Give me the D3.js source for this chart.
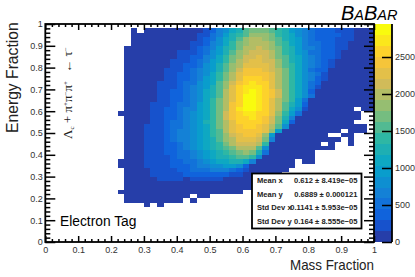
<!DOCTYPE html>
<html>
<head>
<meta charset="utf-8">
<script src="https://cdn.jsdelivr.net/npm/d3@7"></script>
<style>
  body { margin: 0; background: #fff; }
  svg { display: block; }
  text { font-family: "Liberation Sans", Arial, sans-serif; fill: #222; }
</style>
</head>
<body>
<div id="graph"></div>
<script>
// axis ticks and labels
let xMajor = [0, 0.1, 0.2, 0.3, 0.4, 0.5, 0.6, 0.7, 0.8, 0.9, 1];
let yMajor = [0, 0.1, 0.2, 0.3, 0.4, 0.5, 0.6, 0.7, 0.8, 0.9, 1];
let minorTicks = d3.range(0, 51).map(d => d / 50).filter(d => d * 50 % 5 != 0);
let zMajor = [0, 500, 1000, 1500, 2000, 2500];
let zMax = 2946;
let nBands = 20;

// ROOT kBird palette
let birdStops = [0, 0.125, 0.25, 0.375, 0.5, 0.625, 0.75, 0.875, 1];
let birdColors = ["#352a87", "#0f5cdd", "#1481d6", "#06a4ca", "#2eb7a4", "#87bf77", "#d1bb59", "#fec832", "#f9fb0e"];

let legendNames = ["Mean x", "Mean y", "Std Dev x", "Std Dev y"];
let legendValues = ["0.612 ± 8.419e−05", "0.6889 ± 0.000121", "0.1141 ± 5.953e−05", "0.164 ± 8.555e−05"];

// histogram is 50x50 bins of 0.02, first listed column is bin 11 (mass 0.22)
let firstCol = 11;
let binW = 0.02;
let n = null;
// colour band read for each cell (0 = lowest band, null = empty bin), top row is energy bin 48
let firstRow = 48;
let bands = [
[n,n,0,n,0,0,0,0,0,0,0,0,0,1,2,4,5,7,8,10,11,11,11,10,9,8,6,5,4,3,2,2,2,1,1,1,0,0,0],
[n,n,0,0,0,0,0,0,0,0,0,0,1,1,3,4,6,8,9,10,12,12,12,11,9,8,7,5,4,3,2,2,2,2,1,1,0,0,0],
[n,n,0,0,0,0,0,0,0,0,0,0,1,2,3,5,7,8,10,12,13,13,12,11,10,8,7,6,4,3,2,2,2,1,1,1,0,0,0],
[n,n,0,0,0,0,0,0,0,0,0,1,1,2,4,5,7,9,11,12,13,13,13,12,10,9,7,6,4,3,3,2,2,1,1,0,0,0,0],
[n,0,0,0,0,0,0,0,0,0,0,1,2,3,4,6,8,9,11,13,13,14,13,12,11,9,8,6,4,4,3,2,2,1,1,0,0,0,0],
[n,0,0,0,0,0,0,0,0,1,1,1,2,3,5,6,8,10,12,13,14,14,14,13,11,9,8,6,5,3,3,2,2,1,0,0,0,0,0],
[n,0,0,0,0,0,0,0,0,1,1,2,2,4,5,7,9,11,12,14,14,15,14,13,11,10,8,7,5,4,3,2,2,1,0,0,0,0,0],
[n,0,0,0,0,0,0,0,1,1,1,2,3,4,6,7,9,11,13,14,15,15,14,14,12,10,8,7,5,4,3,2,1,0,0,0,0,0,0],
[n,0,0,0,0,0,0,0,1,1,2,2,3,5,6,8,10,12,13,15,15,15,15,14,12,10,9,7,5,4,3,2,1,0,0,0,0,0,0],
[n,0,0,0,0,0,0,1,1,1,2,3,4,5,6,8,10,12,14,16,16,16,15,14,13,11,9,7,5,3,2,2,0,0,0,0,0,0,0],
[n,0,0,0,0,0,0,1,1,2,2,3,4,5,7,9,11,13,15,16,16,16,16,15,13,11,9,7,5,4,3,1,0,0,0,0,0,0,0],
[n,0,0,0,0,0,0,1,1,2,2,3,4,6,7,9,11,13,15,17,17,17,16,15,13,11,9,7,5,4,2,1,0,0,0,0,0,0,0],
[n,0,0,0,0,0,1,1,1,2,3,3,5,6,7,10,12,14,16,17,18,17,17,15,13,11,9,7,5,3,2,0,0,0,0,0,0,0,0],
[n,0,0,0,0,0,1,1,1,2,3,4,5,6,8,10,12,15,17,18,18,18,17,15,13,11,9,7,5,3,1,0,0,0,0,0,0,0,0],
[n,0,0,0,0,0,1,1,2,2,3,4,5,7,8,10,13,15,17,18,19,18,17,16,14,11,9,7,5,2,0,0,0,0,0,0,0,0,0],
[n,0,0,0,0,0,1,1,2,2,3,4,5,7,8,10,13,15,17,19,19,18,17,16,14,11,9,7,5,3,0,0,0,0,0,0,0,0,0],
[n,0,0,0,0,0,1,1,2,2,3,4,5,7,9,11,13,15,17,19,19,18,17,15,13,11,9,6,3,0,0,0,0,0,0,0,0,0,0],
[n,0,0,0,0,1,1,1,2,3,3,4,6,7,9,11,13,16,17,19,19,18,17,15,13,10,8,6,2,0,0,0,0,0,0,0,0,0,0],
[n,0,0,0,0,1,1,2,2,3,4,4,6,7,9,11,13,16,18,19,19,18,17,15,13,10,7,5,1,0,0,0,0,0,0,0,n,0,0],
[0,0,0,0,0,1,1,2,2,3,4,5,6,7,9,11,14,16,17,18,18,17,17,15,12,9,6,3,0,0,0,0,0,0,0,0,0,n,n],
[n,0,0,0,0,1,1,2,2,3,4,5,6,7,9,11,14,16,17,17,18,17,16,14,11,8,4,0,0,0,0,0,0,0,0,0,0,n,n],
[n,0,0,0,0,1,1,2,3,3,4,5,6,8,9,11,13,15,17,17,17,17,16,14,11,7,2,0,0,0,0,0,0,0,0,0,n,n,n],
[n,0,0,0,1,1,1,2,3,3,4,5,6,7,9,11,13,15,16,17,17,16,15,13,10,5,0,0,0,0,0,0,0,0,0,0,0,0,n],
[n,0,0,0,1,1,1,2,3,4,4,5,6,7,9,10,13,15,16,16,16,16,15,12,6,0,0,0,0,0,0,0,0,0,n,0,0,0,n],
[n,0,0,0,1,1,1,2,3,4,4,5,6,7,9,10,12,14,15,16,16,15,12,6,0,0,0,0,0,0,0,0,n,n,0,0,n,n,n],
[n,0,0,0,1,1,1,2,3,4,4,5,6,7,8,10,12,13,15,15,15,14,11,4,0,0,0,0,0,0,0,0,0,0,n,0,n,n,n],
[n,0,0,0,1,1,1,2,2,3,4,5,6,7,8,9,11,13,14,14,14,13,9,0,0,0,0,0,0,0,0,n,0,n,n,0,n,n,n],
[n,0,0,0,1,1,1,2,2,3,4,5,6,7,8,9,10,11,13,13,13,10,5,0,0,0,0,0,0,0,0,0,0,n,n,n,n,n,n],
[n,0,0,0,1,1,1,2,2,3,3,4,5,6,7,8,9,10,11,12,11,8,3,0,0,0,0,0,0,0,n,n,n,n,n,n,n,n,n],
[n,0,0,0,1,1,1,1,2,3,3,4,5,6,7,8,8,9,10,10,9,5,0,0,0,0,0,0,0,0,n,n,n,n,n,n,n,n,n],
[0,0,0,0,1,1,1,1,2,2,3,3,4,5,6,7,7,8,8,7,4,0,0,0,0,0,0,n,0,0,n,n,n,n,n,n,n,n,n],
[0,0,0,0,1,1,1,1,2,2,2,3,4,4,5,5,6,6,5,2,0,0,0,0,0,0,0,n,n,n,n,n,n,n,n,n,n,n,n],
[n,0,0,0,0,1,1,1,1,2,2,3,3,3,4,4,4,3,2,1,0,0,0,0,0,0,n,n,n,n,n,n,n,n,n,n,n,n,n],
[n,0,0,0,0,1,1,1,1,1,2,2,2,2,2,2,2,1,1,0,0,0,0,0,0,n,n,n,n,n,n,n,n,n,n,n,n,n,n],
[n,0,0,0,0,0,1,1,1,1,0,1,1,1,1,1,0,0,0,0,0,0,0,0,0,n,n,n,n,n,n,n,n,n,n,n,n,n,n],
[n,0,0,0,0,0,0,0,0,0,0,0,0,0,0,0,0,0,0,0,0,0,0,n,n,n,n,n,n,n,n,n,n,n,n,n,n,n,n],
[n,0,0,0,0,0,0,0,0,0,0,0,0,0,0,0,0,0,0,0,0,n,n,n,n,n,n,n,n,n,n,n,n,n,n,n,n,n,n],
[0,0,0,0,0,0,0,0,0,0,0,0,0,0,0,0,0,0,0,n,n,n,n,n,n,n,n,n,n,n,n,n,n,n,n,n,n,n,n],
[n,0,0,0,0,0,0,0,0,0,0,n,0,0,n,n,n,n,n,n,n,n,n,n,n,n,n,n,n,n,n,n,n,n,n,n,n,n,n],
[n,0,0,0,0,0,0,0,0,0,n,0,n,n,n,n,n,n,n,n,n,n,n,n,n,n,n,n,n,n,n,n,n,n,n,n,n,n,n],
[n,n,n,n,0,n,0,n,n,n,n,n,n,n,n,n,n,n,n,n,n,n,n,n,n,n,n,n,n,n,n,n,n,n,n,n,n,n,n]
];

let largeurTotale = 415, hauteurTotale = 277;
let marges = {haut: 24, droit: 41, bas: 35, gauche: 45.3};

let echelleX = d3.scaleLinear().domain([0, 1]).range([marges.gauche, largeurTotale - marges.droit]);
let echelleY = d3.scaleLinear().domain([0, 1]).range([hauteurTotale - marges.bas, marges.haut]);
let echelleZ = d3.scaleLinear().domain([0, zMax]).range([hauteurTotale - marges.bas, marges.haut]);
let bird = d3.scaleLinear().domain(birdStops).range(birdColors);
let bandColor = b => bird((b + 1) / nBands);

let svg = d3.select("#graph").append("svg")
    .attr("width", largeurTotale)
    .attr("height", hauteurTotale);

// cells
let cellules = [];
bands.forEach((row, i) => row.forEach((b, j) => {
  if (b !== null) cellules.push({col: firstCol + j, row: firstRow - i, band: b});
}));
svg.append("g").selectAll("rect")
    .data(cellules)
    .enter()
    .append("rect")
    .attr("x", d => echelleX(d.col * binW))
    .attr("y", d => echelleY((d.row + 1) * binW))
    .attr("width", echelleX(binW) - echelleX(0))
    .attr("height", echelleY(0) - echelleY(binW))
    .attr("shape-rendering", "crispEdges")
    .style("fill", d => bandColor(d.band));

// colour bar
let barX = echelleX(1), barW = 18;
svg.append("g").selectAll("rect")
    .data(d3.range(nBands))
    .enter()
    .append("rect")
    .attr("x", barX)
    .attr("width", barW)
    .attr("y", d => echelleZ((d + 1) * zMax / nBands))
    .attr("height", echelleZ(0) - echelleZ(zMax / nBands))
    .attr("shape-rendering", "crispEdges")
    .style("fill", d => bandColor(d));

function styleAxis(g) {
  g.select(".domain").remove();
  g.selectAll("line").attr("stroke", "#000").attr("stroke-width", 1.5);
  g.selectAll("text").style("font-size", "9px").style("fill", "#333");
}
let basY = echelleY(0), hautY = echelleY(1), gaucheX = echelleX(0), droitX = echelleX(1);

// x axis, bottom and top
svg.append("g").attr("transform", "translate(0," + basY + ")")
    .call(d3.axisBottom(echelleX).tickValues(xMajor).tickSize(-6).tickFormat(d3.format("~g"))).call(styleAxis)
    .selectAll("text").attr("y", 4.5);
svg.append("g").attr("transform", "translate(0," + basY + ")")
    .call(d3.axisBottom(echelleX).tickValues(minorTicks).tickSize(-3).tickFormat("")).call(styleAxis);
svg.append("g").attr("transform", "translate(0," + hautY + ")")
    .call(d3.axisTop(echelleX).tickValues(xMajor).tickSize(-6).tickFormat("")).call(styleAxis);
svg.append("g").attr("transform", "translate(0," + hautY + ")")
    .call(d3.axisTop(echelleX).tickValues(minorTicks).tickSize(-3).tickFormat("")).call(styleAxis);

// y axis, left and right
svg.append("g").attr("transform", "translate(" + gaucheX + ",0)")
    .call(d3.axisLeft(echelleY).tickValues(yMajor).tickSize(-10).tickFormat(d3.format("~g"))).call(styleAxis)
    .selectAll("text").attr("x", -2.5);
svg.append("g").attr("transform", "translate(" + gaucheX + ",0)")
    .call(d3.axisLeft(echelleY).tickValues(minorTicks).tickSize(-5).tickFormat("")).call(styleAxis);
svg.append("g").attr("transform", "translate(" + droitX + ",0)")
    .call(d3.axisRight(echelleY).tickValues(yMajor).tickSize(-10).tickFormat("")).call(styleAxis);
svg.append("g").attr("transform", "translate(" + droitX + ",0)")
    .call(d3.axisRight(echelleY).tickValues(minorTicks).tickSize(-5).tickFormat("")).call(styleAxis);

// z axis on the colour bar
svg.append("g").attr("transform", "translate(" + (barX + barW) + ",0)")
    .call(d3.axisRight(echelleZ).tickValues(zMajor).tickSize(-10).tickFormat(d3.format("d"))).call(styleAxis)
    .selectAll("text").attr("x", 3);

// frames
svg.append("rect").attr("x", gaucheX).attr("y", hautY).attr("width", droitX - gaucheX).attr("height", basY - hautY)
    .attr("fill", "none").attr("stroke", "#000").attr("stroke-width", 1.8);
svg.append("line").attr("x1", barX + barW).attr("x2", barX + barW).attr("y1", hautY).attr("y2", basY)
    .attr("stroke", "#000").attr("stroke-width", 1.8);

// titles
svg.append("text").attr("transform", "translate(18,133) rotate(-90)")
    .style("font-size", "15.7px").text("Energy Fraction");
svg.append("text").attr("x", 290).attr("y", 270)
    .attr("textLength", 84).attr("lengthAdjust", "spacingAndGlyphs")
    .style("font-size", "14.5px").text("Mass Fraction");
svg.append("text").attr("x", 60).attr("y", 226)
    .style("font-size", "13.8px").style("fill", "#000").text("Electron Tag");

// decay label
let decay = svg.append("text").attr("transform", "translate(72,139) rotate(-90)")
    .style("font-family", "'Liberation Serif', serif").style("font-size", "13px");
decay.append("tspan").text("Λ");
decay.append("tspan").attr("dy", 2).style("font-size", "7px").text("c");
decay.append("tspan").attr("dy", -2).text("  +  π");
decay.append("tspan").attr("dy", -4).style("font-size", "7px").text("+");
decay.append("tspan").attr("dy", 4).text("π");
decay.append("tspan").attr("dy", -4).style("font-size", "7px").text("−");
decay.append("tspan").attr("dy", 4).text("π");
decay.append("tspan").attr("dy", -4).style("font-size", "7px").text("+");
decay.append("tspan").attr("dy", 4).attr("dx", 5).text("  ←  τ");
decay.append("tspan").attr("dy", -4).style("font-size", "7px").text("−");

// BaBar logo
let logo = svg.append("text").attr("x", 341).attr("y", 20)
    .style("font-style", "italic").style("fill", "#000").style("font-size", "20px");
logo.append("tspan").text("B");
logo.append("tspan").style("font-size", "14.5px").text("A");
logo.append("tspan").text("B");
logo.append("tspan").style("font-size", "14.5px").text("AR");

// stats box
svg.append("rect").attr("x", 252).attr("y", 173.5).attr("width", 109.5).attr("height", 55)
    .attr("fill", "#fff").attr("stroke", "#000").attr("stroke-width", 1.8);
let legendY = d3.scalePoint().domain(legendNames).range([183, 224]);
svg.append("g").selectAll("text").data(legendNames).enter().append("text")
    .attr("x", 257).attr("y", d => legendY(d))
    .style("font-size", "7.6px").style("font-weight", "bold").style("fill", "#222").text(d => d);
svg.append("g").selectAll("text").data(legendValues).enter().append("text")
    .attr("x", 357.5).attr("y", (d, i) => legendY(legendNames[i])).attr("text-anchor", "end")
    .style("font-size", "7.6px").style("font-weight", "bold").style("fill", "#222").text(d => d);
</script>
</body>
</html>
